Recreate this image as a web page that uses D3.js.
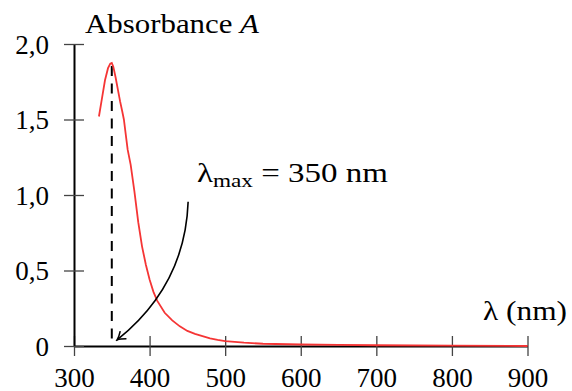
<!DOCTYPE html>
<html>
<head>
<meta charset="utf-8">
<script src="https://cdn.jsdelivr.net/npm/d3@7"></script>
<style>
  svg text, svg tspan { font-family: 'Liberation Serif' !important; }
</style>
</head>
<body style="margin:0">
<script>
// spectrum
var lambda = [333, 337, 341, 345, 348, 350, 352, 355, 358, 361, 364, 366, 368, 371, 375, 380, 385, 390, 395, 400, 405, 410, 420, 430, 440, 450, 460, 470, 480, 490, 500, 525, 550, 600, 650, 700, 800, 900];
var absorb = [1.52, 1.64, 1.76, 1.84, 1.87, 1.875, 1.85, 1.78, 1.70, 1.62, 1.55, 1.50, 1.42, 1.30, 1.20, 1.02, 0.82, 0.66, 0.54, 0.44, 0.36, 0.30, 0.22, 0.17, 0.13, 0.10, 0.08, 0.065, 0.05, 0.04, 0.032, 0.022, 0.015, 0.01, 0.007, 0.005, 0.002, 0];
var xTicks = [300, 400, 500, 600, 700, 800, 900];
var yTicks = [0, 0.5, 1.0, 1.5, 2.0];
var lambdaMax = 350;
var peakA = 1.875;
// arrow: from label down to the peak wavelength
var arrowFrom = [451, 0.955], arrowCtrl = [447, 0.40], arrowTo = [357, 0.04];

var width = 572, height = 391;
var fontName = 'Liberation Serif';

var svg = d3.select('body').append('svg')
  .attr('width', width).attr('height', height)
  .attr('font-family', fontName);

var x = d3.scaleLinear().domain([300, 900]).range([74, 527.5]);
var y = d3.scaleLinear().domain([0, 2]).range([346, 44]);

var comma = d3.formatLocale({decimal: ',', thousands: '.', grouping: [3], currency: ['', '']}).format('.1f');

var gx = svg.append('g').attr('transform', 'translate(0,' + y(0) + ')')
  .call(d3.axisBottom(x).tickValues(xTicks).tickSize(10).tickSizeOuter(0).tickPadding(13));
var gy = svg.append('g').attr('transform', 'translate(' + x(300) + ',0)')
  .call(d3.axisLeft(y).tickValues(yTicks).tickSize(10).tickSizeOuter(0).tickPadding(15)
    .tickFormat(function(d){ return d === 0 ? '0' : comma(d); }));
gx.attr('font-family', fontName).attr('font-size', 27);
gy.attr('font-family', fontName).attr('font-size', 27);

// ticks cross the axis on both sides
gx.selectAll('.tick line').attr('y1', -10).attr('stroke', '#444').attr('stroke-width', 1.3);
gy.selectAll('.tick line').attr('x1', 10).attr('stroke', '#444').attr('stroke-width', 1.3);
svg.selectAll('.domain').attr('stroke', '#000').attr('stroke-width', 2);
svg.selectAll('.tick text')
  .attr('font-family', fontName)
  .style('font-family', function(){ return '"' + fontName + '"'; }, 'important')
  .style('font-size', '27px').attr('fill', '#000');
gx.selectAll('.tick text').attr('dy', '0.66em');
gy.selectAll('.tick text').attr('dy', '0.34em');

// dashed marker at lambda max
svg.append('line')
  .attr('x1', x(lambdaMax)).attr('x2', x(lambdaMax))
  .attr('y1', y(peakA) + 3).attr('y2', y(0))
  .attr('stroke', '#000').attr('stroke-width', 2)
  .attr('stroke-dasharray', '10,7.5');

// spectrum
var line = d3.line().x(function(d, i){ return x(lambda[i]); }).y(function(d){ return y(d); });
svg.append('path').datum(absorb)
  .attr('d', line).attr('fill', 'none')
  .attr('stroke', '#f53535').attr('stroke-width', 1.8);

// arrow
svg.append('defs').append('marker')
  .attr('id', 'head').attr('viewBox', '-10 -6 12 12')
  .attr('markerWidth', 12).attr('markerHeight', 12)
  .attr('markerUnits', 'userSpaceOnUse').attr('orient', 'auto')
  .append('path').attr('d', 'M-8,-5 Q-3,-1 0,0 Q-3,1 -8,5')
  .attr('fill', 'none').attr('stroke', '#000').attr('stroke-width', 1.5);

var p = d3.path();
p.moveTo(x(arrowFrom[0]), y(arrowFrom[1]));
p.quadraticCurveTo(x(arrowCtrl[0]), y(arrowCtrl[1]), x(arrowTo[0]), y(arrowTo[1]));
svg.append('path').attr('d', p.toString())
  .attr('fill', 'none').attr('stroke', '#000').attr('stroke-width', 1.6)
  .attr('marker-end', 'url(#head)');

// labels, built as data like the tick text
var labels = [
  {x: 85, y: 33, anchor: 'start', len: 174, parts: [['Absorbance ', 0, 'normal'], ['A', 0, 'italic']]},
  {x: 567, y: 320, anchor: 'end', len: 84, parts: [['\u03bb (nm)', 0, 'normal']]},
  {x: 197, y: 182, anchor: 'start', len: 191, parts: [['\u03bb', 0, 'normal'], ['max', 5, 'sub'], [' = 350 nm', -5, 'normal']]}
];
var lab = svg.selectAll('text.lab').data(labels).join('text')
  .attr('class', 'lab')
  .attr('x', function(d){ return d.x; }).attr('y', function(d){ return d.y; })
  .attr('text-anchor', function(d){ return d.anchor; })
  .attr('font-family', fontName)
  .style('font-family', function(){ return '"' + fontName + '"'; }, 'important')
  .style('font-size', '27px')
  .attr('textLength', function(d){ return d.len; })
  .attr('lengthAdjust', 'spacingAndGlyphs');
lab.selectAll('tspan').data(function(d){ return d.parts; }).join('tspan')
  .attr('dy', function(d){ return d[1]; })
  .style('font-style', function(d){ return d[2] === 'italic' ? 'italic' : 'normal'; })
  .style('font-size', function(d){ return d[2] === 'sub' ? '19px' : '27px'; })
  .text(function(d){ return d[0]; });
</script>
</body>
</html>
